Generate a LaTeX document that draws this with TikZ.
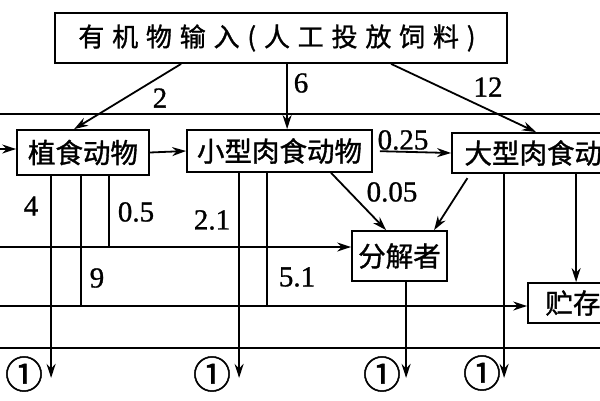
\documentclass[tikz,border=0pt]{standalone}
\usepackage{fontspec}
\setmainfont{Liberation Serif}
\newfontfamily\cjk{Noto Sans CJK SC}[FakeBold=1.2]
\newfontfamily\numfont{Liberation Serif}[FakeBold=1]
\usetikzlibrary{arrows.meta}
\begin{document}
\begin{tikzpicture}[x=1pt,y=-1pt,line width=1.8pt,
	box/.style={draw,inner sep=0pt,font=\cjk\fontsize{27.5}{28}\selectfont},
	num/.style={inner sep=0pt,font=\numfont\fontsize{29}{29}\selectfont},
	quan/.style={inner sep=0pt,font=\cjk\fontsize{38}{38}\selectfont},
	arr/.style={-{Stealth[length=14pt,width=9pt]}}]
		\useasboundingbox (0,0) rectangle (600,400);
		\clip (0,0) rectangle (600,400);
		
		\draw (-10,114) rectangle (610,348);
		
		\node[box,minimum width=452pt,minimum height=50pt,font=\cjk\fontsize{26}{27}\selectfont\addfontfeature{LetterSpace=30}] (shi) at (281,38) {\hspace*{-8pt}有机物输入(人工投放饲料)};
		\node[box,minimum width=132pt,minimum height=45pt] (zhi) at (83,152.5) {植食动物};
		\node[box,minimum width=185pt,minimum height=42pt] (xiao) at (279.5,151) {小型肉食动物};
		\node[box,minimum width=190pt,minimum height=40pt] (da) at (547,153) {大型肉食动物};
		\node[box,minimum width=95pt,minimum height=50pt] (fen) at (399.5,256) {分解者};
		\node[box,minimum width=90pt,minimum height=40pt] (zhu) at (573,303) {贮存};
		
		\coordinate (l0) at (-10,149);
		\coordinate (l1) at (-10,247);
		\coordinate (l2) at (-10,306);
		
		\draw[arr] ([xshift=127pt]shi.south west) -- ([xshift=58pt]zhi.north west);
		\draw[arr] ([xshift=233pt]shi.south west) -- ([xshift=101pt]xiao.north west);
		\draw[arr] ([xshift=337pt]shi.south west) -- ([xshift=85pt]da.north west);
		
		\draw[arr] (l0) -- (l0 -| zhi.west);
		\draw[arr] (zhi.east) -- (xiao.west);
		\draw[arr,shorten <=7pt] (xiao.east) -- (da.west);
		\draw[arr] ([xshift=145pt]xiao.south west) -- ([xshift=35pt]fen.north west);
		\draw[arr,shorten <=5pt] ([xshift=19pt]da.south west) -- ([xshift=83pt]fen.north west);
		\draw[arr] ([xshift=125pt]da.south west) -- ([xshift=49pt]zhu.north west);
		
		\draw[arr] (l1) -- (l1 -| fen.west);
		\draw[arr] (l2) -- (l2 -| zhu.west);
		
		\draw[arr] ([xshift=35pt]zhi.south west) -- ++(0,202);
		\draw ([xshift=65pt]zhi.south west) -- ++(0,131);
		\draw ([xshift=93pt]zhi.south west) -- ++(0,72);
		\draw[arr] ([xshift=53pt]xiao.south west) -- ++(0,205);
		\draw ([xshift=81pt]xiao.south west) -- ++(0,134);
		\draw[arr] ([xshift=55pt]fen.south west) -- ++(0,96);
		\draw[arr] ([xshift=53pt]da.south west) -- ++(0,204);
		
		\node[num] (n2) at (160,98) {2};
		\node[num] (n6) at (301,83) {6};
		\node[num] (n12) at (488,87) {12};
		\node[num] (n025) at (403,140) {0.25};
		\node[num] (n005) at (392,192) {0.05};
		\node[num] (n4) at (31,206) {4};
		\node[num] (n05) at (136,212) {0.5};
		\node[num] (n21) at (212,220) {2.1};
		\node[num] (n9) at (97,278) {9};
		\node[num] (n51) at (297,277) {5.1};
		
		\node[quan] (o1) at (24,374) {①};
		\node[quan] (o2) at (212,374) {①};
		\node[quan] (o3) at (382,374) {①};
		\node[quan] (o4) at (482,373) {①};
\end{tikzpicture}
\end{document}
